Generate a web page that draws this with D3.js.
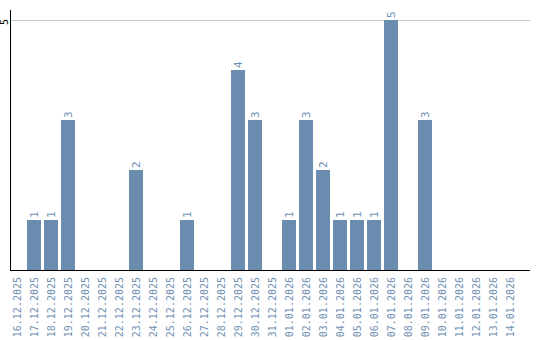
<!DOCTYPE html>
<html>
<head>
<meta charset="utf-8">
<script src="https://d3js.org/d3.v7.min.js"></script>
<style>
  body { margin: 0; background: #fff; }
  svg { display: block; font-family: "DejaVu Sans Mono", "Liberation Mono", monospace; }
</style>
</head>
<body>
<svg id="chart"></svg>
<script>
// dates on the x axis
const dates = [
  '16.12.2025', '17.12.2025', '18.12.2025', '19.12.2025', '20.12.2025',
  '21.12.2025', '22.12.2025', '23.12.2025', '24.12.2025', '25.12.2025',
  '26.12.2025', '27.12.2025', '28.12.2025', '29.12.2025', '30.12.2025',
  '31.12.2025', '01.01.2026', '02.01.2026', '03.01.2026', '04.01.2026',
  '05.01.2026', '06.01.2026', '07.01.2026', '08.01.2026', '09.01.2026',
  '10.01.2026', '11.01.2026', '12.01.2026', '13.01.2026', '14.01.2026'
];
// counts per day
const counts = [
  0, 1, 1, 3, 0,
  0, 0, 2, 0, 0,
  1, 0, 0, 4, 3,
  0, 1, 3, 2, 1,
  1, 1, 5, 0, 3,
  0, 0, 0, 0, 0
];
const yTicks = [5];

const width = 540, height = 340;
const barColor = '#6a8caf';
const textColor = '#7090b2';
const monoFont = '"DejaVu Sans Mono", "Liberation Mono", monospace';

const svg = d3.select('#chart')
  .attr('width', width)
  .attr('height', height);

const data = dates.map((d, i) => ({date: d, value: counts[i]}));

const x = d3.scaleBand()
  .domain(dates)
  .range([10, 517])
  .paddingInner(3 / 17)
  .paddingOuter(0);

const y = d3.scaleLinear()
  .domain([0, 5])
  .range([270, 20]);

// grid line at top tick
svg.append('g')
  .selectAll('line')
  .data(yTicks)
  .join('line')
    .attr('x1', 11)
    .attr('x2', 530)
    .attr('y1', d => y(d) + 0.5)
    .attr('y2', d => y(d) + 0.5)
    .attr('stroke', '#c8c8c8')
    .attr('stroke-width', 1);

// bars
svg.append('g')
  .selectAll('rect')
  .data(data.filter(d => d.value > 0))
  .join('rect')
    .attr('x', d => x(d.date))
    .attr('y', d => y(d.value))
    .attr('width', x.bandwidth())
    .attr('height', d => y(0) - y(d.value))
    .attr('fill', barColor);

// value labels, rotated
svg.append('g')
  .selectAll('text')
  .data(data.filter(d => d.value > 0))
  .join('text')
    .attr('transform', d => `translate(${x(d.date) + x.bandwidth() / 2 + 4},${y(d.value) - 2}) rotate(-90)`)
    .attr('font-size', 11)
    .attr('fill', textColor)
    .text(d => d.value);

// y axis
svg.append('line')
  .attr('x1', 10.5).attr('x2', 10.5)
  .attr('y1', 10).attr('y2', 270)
  .attr('stroke', '#000');

svg.append('g')
  .selectAll('text')
  .data(yTicks)
  .join('text')
    .attr('transform', d => `translate(7.5,${y(d) + 2}) rotate(-90)`)
    .attr('text-anchor', 'middle')
    .attr('font-size', 10)
    .attr('fill', '#000')
    .text(d => d);

// x axis
const xAxis = d3.axisBottom(x).tickSize(0).tickSizeOuter(0);
const xAxisG = svg.append('g')
  .attr('transform', 'translate(0,270)')
  .call(xAxis);
xAxisG.select('.domain').remove();
xAxisG.selectAll('text')
  .attr('font-size', 10)
  .attr('font-family', monoFont)
  .attr('fill', textColor)
  .attr('text-anchor', 'end')
  .attr('dy', null)
  .attr('y', 0)
  .attr('x', 0)
  .attr('transform', 'translate(4,7) rotate(-90)');

svg.append('line')
  .attr('x1', 10).attr('x2', 530)
  .attr('y1', 270.5).attr('y2', 270.5)
  .attr('stroke', '#000');
</script>
</body>
</html>
